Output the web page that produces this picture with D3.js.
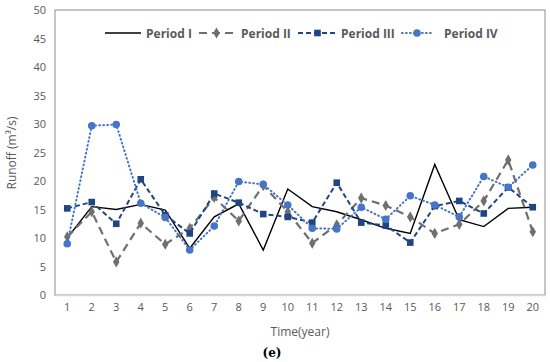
<!DOCTYPE html>
<html><head><meta charset="utf-8">
<script src="https://cdn.jsdelivr.net/npm/d3@7"></script>
<style>body{margin:0;background:#fff;} svg{display:block;}</style>
</head><body>
<svg id="c" width="550" height="362"></svg>
<script>
const years = d3.range(1, 21).map(String);
const yTicks = [0,5,10,15,20,25,30,35,40,45,50];
const period1 = [10.0,15.5,15.0,15.9,14.9,8.2,13.7,16.0,7.9,18.6,15.5,14.6,13.2,11.7,10.8,22.9,13.2,12.0,15.2,15.4];
const period2 = [10.2,14.6,5.8,12.6,8.9,11.7,17.1,13.0,19.2,14.6,9.1,12.3,17.0,15.7,13.7,10.8,12.4,16.5,23.7,11.1];
const period3 = [15.2,16.3,12.5,20.3,14.0,10.8,17.8,16.2,14.2,13.7,12.7,19.7,12.7,12.2,9.2,15.6,16.5,14.3,18.9,15.4];
const period4 = [9.0,29.7,29.9,16.1,13.6,7.9,12.1,19.9,19.4,15.8,11.7,11.6,15.4,13.3,17.4,15.8,13.7,20.8,18.9,22.8];
const seriesNames = ["Period I","Period II","Period III","Period IV"];

const svg = d3.select("#c");
const L = 55, R = 545, T = 10, B = 295;
const x = d3.scaleBand().domain(years).range([L, R]);
const y = d3.scaleLinear().domain([0, 50]).range([B, T]);
const font = "'Open Sans', 'Liberation Sans', Arial, sans-serif";

// plot border
svg.append("rect").attr("x", L).attr("y", T).attr("width", R - L).attr("height", B - T)
  .attr("fill", "none").attr("stroke", "#a6a6a6").attr("stroke-width", 1.3);

// y axis
const yAxis = svg.append("g").attr("transform", `translate(${L},0)`)
  .call(d3.axisLeft(y).tickValues(yTicks).tickSize(0).tickPadding(9));
yAxis.select(".domain").remove();
yAxis.selectAll("text").attr("fill", "#595959").style("font", `11px ${font}`);

// x axis
const xAxis = svg.append("g").attr("transform", `translate(0,${B})`)
  .call(d3.axisBottom(x).tickSize(0).tickPadding(8));
xAxis.select(".domain").attr("stroke", "#d9d9d9").attr("stroke-width", 1.3);
xAxis.selectAll("text").attr("fill", "#595959").style("font", `11px ${font}`);

// titles
svg.append("text").attr("x", 300).attr("y", 336).attr("text-anchor", "middle")
  .attr("fill", "#595959").style("font", `12px ${font}`).text("Time(year)");
svg.append("text").attr("transform", "translate(16,153) rotate(-90)").attr("text-anchor", "middle")
  .attr("fill", "#595959").style("font", `12px ${font}`).text("Runoff (m³/s)");
svg.append("text").attr("x", 272).attr("y", 357).attr("text-anchor", "middle")
  .attr("fill", "#000").style("font", `bold 12px 'DejaVu Serif', serif`).text("(e)");

const cx = (d, i) => x(years[i]) + x.bandwidth() / 2;
const line = d3.line().x(cx).y(d => y(d));

const styles = [
  {data: period1, color: "#000000", dash: null, width: 1.4, marker: null},
  {data: period2, color: "#6f6f6f", dash: "8,5", width: 2.2, marker: "diamond"},
  {data: period3, color: "#1f4583", dash: "5,3", width: 2, marker: "square"},
  {data: period4, color: "#4674c6", dash: "0.8,3.2", width: 2, marker: "circle"}
];

function drawMarker(g, type, px, py, color) {
  if (type === "diamond") {
    g.append("path").attr("d", d3.symbol(d3.symbolDiamond, 36)()).attr("transform", `translate(${px},${py})`).attr("fill", color);
  } else if (type === "square") {
    g.append("rect").attr("x", px - 3.3).attr("y", py - 3.3).attr("width", 6.6).attr("height", 6.6).attr("fill", color);
  } else if (type === "circle") {
    g.append("circle").attr("cx", px).attr("cy", py).attr("r", 3.8).attr("fill", color);
  }
}

styles.forEach(s => {
  const g = svg.append("g");
  g.append("path").datum(s.data).attr("d", line).attr("fill", "none")
    .attr("stroke", s.color).attr("stroke-width", s.width)
    .attr("stroke-dasharray", s.dash).attr("stroke-linecap", s.marker === "circle" ? "round" : "butt");
  if (s.marker) s.data.forEach((d, i) => drawMarker(g, s.marker, cx(d, i), y(d), s.color));
});

// legend
const legendPos = [{x0: 105, x1: 141, tx: 146}, {x0: 199, x1: 234, tx: 241}, {x0: 298, x1: 337, tx: 341}, {x0: 402, x1: 432, tx: 444}];
const ly = 33;
styles.forEach((s, k) => {
  const p = legendPos[k];
  const g = svg.append("g");
  g.append("line").attr("x1", p.x0).attr("x2", p.x1).attr("y1", ly).attr("y2", ly)
    .attr("stroke", s.color).attr("stroke-width", s.width).attr("stroke-dasharray", s.dash)
    .attr("stroke-linecap", s.marker === "circle" ? "round" : "butt");
  if (s.marker) drawMarker(g, s.marker, (p.x0 + p.x1) / 2, ly, s.color);
  g.append("text").attr("x", p.tx).attr("y", ly + 4.5).attr("fill", "#595959")
    .style("font", `bold 12px ${font}`).text(seriesNames[k]);
});
</script>
</body></html>
